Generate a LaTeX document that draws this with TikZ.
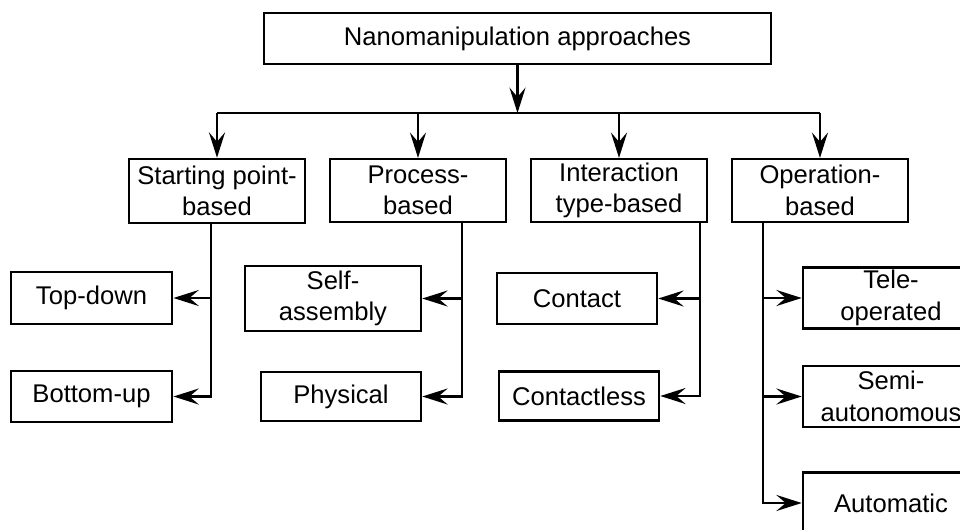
\documentclass[tikz,border=0pt]{standalone}
\usepackage{fontspec}
\setmainfont{Liberation Sans}
\usetikzlibrary{arrows.meta}
\begin{document}
\begin{tikzpicture}[x=0.75pt,y=-0.75pt,
  box/.style={draw,line width=1.9pt,align=center,inner sep=0pt,
    font=\fontsize{19.2pt}{23.5pt}\selectfont},
  link/.style={line width=2pt},
  arr/.style={link,-{Stealth[length=19pt,width=12pt,inset=7pt]}}]
\useasboundingbox (0,0) rectangle (960,529);
% boxes
\node[box,minimum width=380pt,minimum height=38pt] (top) at (517.5,38.5) {Nanomanipulation approaches};
\node[box,minimum width=132pt,minimum height=48pt] (start) at (217,191) {Starting point-\\based};
\node[box,minimum width=132pt,minimum height=47pt] (proc) at (418,190.5) {Process-\\based};
\node[box,minimum width=132pt,minimum height=47pt] (inter) at (619,190.5) {Interaction\\type-based};
\node[box,minimum width=132pt,minimum height=47pt] (oper) at (820,190.5) {Operation-\\based};
\node[box,minimum width=121pt,minimum height=39pt] (topdown) at (91.5,298) {Top-down};
\node[box,minimum width=121pt,minimum height=38pt] (bottomup) at (91.5,396.5) {Bottom-up};
\node[box,minimum width=132pt,minimum height=49pt] (self) at (333,298.5) {Self-\\assembly};
\node[box,minimum width=120pt,minimum height=37pt] (phys) at (341,396.5) {Physical};
\node[box,minimum width=120pt,minimum height=38pt] (contact) at (577,298.5) {Contact};
\node[box,minimum width=120pt,minimum height=37pt] (contactless) at (579,396) {Contactless};
\node[box,minimum width=132pt,minimum height=46pt] (tele) at (891,298) {Tele-\\operated};
\node[box,minimum width=132pt,minimum height=46pt] (semi) at (891,396.5) {Semi-\\autonomous};
\node[box,minimum width=132pt,minimum height=46pt] (auto) at (891,503) {Automatic};
% top bus
\coordinate (bus) at (517.5,113);
\draw[arr] (top.south) -- (bus);
\draw[link] (start.north |- bus) -- (oper.north |- bus);
\foreach \n in {start,proc,inter,oper}
  \draw[arr] (\n.north |- bus) -- (\n.north);
% branch x positions
\coordinate (sx) at (211,0);
\coordinate (px) at (462,0);
\coordinate (ix) at (700,0);
\coordinate (ox) at (763,0);
% starting point
\draw[arr] (start.south -| sx) |- (bottomup.east);
\coordinate (s1) at (topdown.east -| sx);
\draw[arr] (s1) -- (topdown.east);
% process
\draw[arr] (proc.south -| px) |- (phys.east);
\coordinate (p1) at (self.east -| px);
\draw[arr] (p1) -- (self.east);
% interaction
\draw[arr] (inter.south -| ix) |- (contactless.east);
\coordinate (i1) at (contact.east -| ix);
\draw[arr] (i1) -- (contact.east);
% operation
\draw[arr] (oper.south -| ox) |- (auto.west);
\coordinate (o1) at (tele.west -| ox);
\coordinate (o2) at (semi.west -| ox);
\draw[arr] (o1) -- (tele.west);
\draw[arr] (o2) -- (semi.west);
\end{tikzpicture}
\end{document}
